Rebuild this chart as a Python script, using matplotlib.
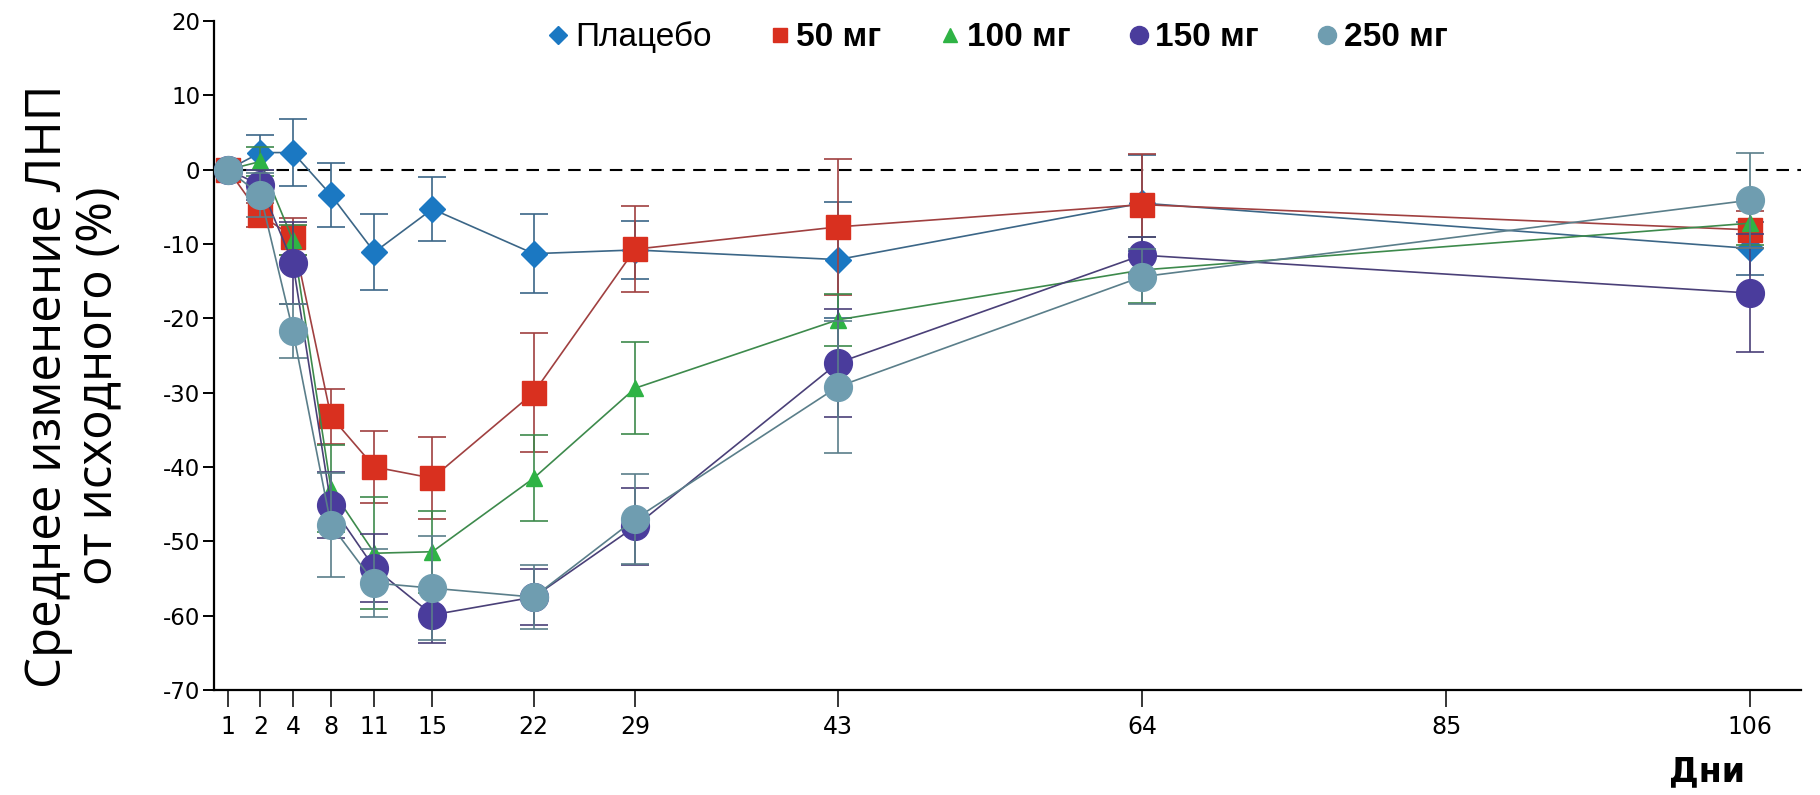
import numpy as np
import matplotlib
matplotlib.use("Agg")
import matplotlib.pyplot as plt
from matplotlib.lines import Line2D

# ── data ──────────────────────────────────────────────────────────────
days = [1, 2, 4, 8, 11, 15, 22, 29, 43, 64, 106]
day_ticks = [1, 2, 4, 8, 11, 15, 22, 29, 43, 64, 85, 106]

series_names = ["Плацебо", "50 мг", "100 мг", "150 мг", "250 мг"]

placebo = [0, 2.3, 2.3, -3.4, -11.1, -5.3, -11.3, -10.8, -12.1, -4.5, -10.6]
placebo_err = [0, 2.4, 4.5, 4.3, 5.1, 4.3, 5.3, 3.9, 7.8, 6.5, 3.6]

mg50 = [0, -6.1, -9.0, -33.2, -40.0, -41.5, -30.0, -10.7, -7.7, -4.7, -8.1]
mg50_err = [0, 1.6, 2.5, 3.7, 4.9, 5.5, 8.0, 5.8, 9.2, 6.8, 2.5]

mg100 = [0, 1.1, -9.5, -42.9, -51.6, -51.4, -41.5, -29.4, -20.2, -13.5, -7.2]
mg100_err = [0, 2.0, 2.0, 5.8, 7.5, 5.5, 5.8, 6.2, 3.5, 4.5, 3.0]

mg150 = [0, -2.1, -12.6, -45.1, -53.6, -59.9, -57.5, -48.0, -26.0, -11.5, -16.6]
mg150_err = [0, 2.0, 5.5, 4.4, 4.6, 3.8, 3.8, 5.2, 7.3, 2.5, 7.9]

mg250 = [0, -3.4, -21.7, -47.8, -55.6, -56.3, -57.5, -47.0, -29.2, -14.4, -4.1]
mg250_err = [0, 3.0, 3.6, 7.0, 4.6, 7.0, 4.3, 6.0, 8.9, 3.7, 6.4]

values = [placebo, mg50, mg100, mg150, mg250]
errors = [placebo_err, mg50_err, mg100_err, mg150_err, mg250_err]

# ── styles ───────────────────────────────────────────────────────────
markers = ["D", "s", "^", "o", "o"]
marker_sizes = [13.5, 17, 12, 20, 20]
legend_sizes = [9, 10, 10, 13, 13]
face_colors = ["#1b78c2", "#d9301f", "#2fb345", "#4a3c9c", "#6f9db0"]
line_colors = ["#3b6687", "#a04040", "#3d8a4c", "#4a4078", "#5a7e8a"]

# x axis is stretched for the first days, then linear
_brk_days = [0, 1, 2, 4, 8, 120]
_brk_pos = [-1, 0, 1, 2, 3.17, 3.17 + 112 * 0.4458]


def _fwd(x):
    return np.interp(x, _brk_days, _brk_pos)


def _inv(u):
    return np.interp(u, _brk_pos, _brk_days)


plt.rcParams["axes.unicode_minus"] = False

fig = plt.figure(figsize=(18.2, 7.95), dpi=100)
ax = fig.add_axes([214 / 1820, 1 - 690 / 795, (1801 - 214) / 1820, (690 - 21) / 795])
ax.set_xscale("function", functions=(_fwd, _inv))

ax.axhline(0, color="black", lw=1.5, ls=(0, (6, 4)), zorder=1)

for i, (vals, errs) in enumerate(zip(values, errors)):
    ax.errorbar(days, vals, yerr=errs, fmt="-", marker=markers[i],
                color=line_colors[i], lw=1.2,
                ms=marker_sizes[i], mfc=face_colors[i], mec=face_colors[i],
                ecolor=line_colors[i], elinewidth=1.2, capsize=10, capthick=1.2,
                zorder=2 + i)

ax.set_xlim(0.57, 109.5)
ax.set_ylim(-70, 20)
ax.set_xticks(day_ticks)
ax.set_xticklabels([str(d) for d in day_ticks])
ax.set_yticks(np.arange(-70, 21, 10))
ax.xaxis.set_minor_locator(matplotlib.ticker.NullLocator())

for side in ("top", "right"):
    ax.spines[side].set_visible(False)
for side in ("left", "bottom"):
    ax.spines[side].set_linewidth(1.6)

ax.tick_params(axis="y", length=8, width=1.4, labelsize=16.5, pad=2)
ax.tick_params(axis="x", length=12, width=1.1, pad=6, labelsize=17)

# legend
handles = [Line2D([], [], ls="none", marker=markers[i], ms=legend_sizes[i],
                  mfc=face_colors[i], mec=face_colors[i])
           for i in range(len(series_names))]
leg = fig.legend(handles, series_names, loc="center", ncol=5,
                 bbox_to_anchor=(0.547, 0.953), frameon=False,
                 handletextpad=0.05, columnspacing=1.6, handlelength=0.9,
                 prop={"family": "Liberation Sans", "size": 24})
for j, txt in enumerate(leg.get_texts()):
    if j > 0:
        txt.set_fontweight("bold")

fig.text(74 / 1820, 1 - 386 / 795, "Среднее изменение ЛНП\nот исходного (%)",
         rotation=90, ha="center", va="center", multialignment="center",
         family="Open Sans", fontsize=35.5, linespacing=1.05)

fig.text(1707 / 1820, 1 - 772 / 795, "Дни", ha="center", va="center",
         family="DejaVu Sans", fontweight="bold", fontsize=24)

fig.savefig("out.png", dpi=100)
